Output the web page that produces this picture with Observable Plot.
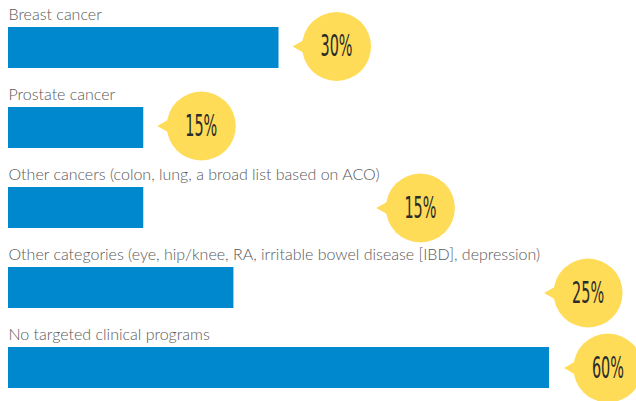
<!DOCTYPE html>
<html><head><meta charset="utf-8">
<script src="https://cdn.jsdelivr.net/npm/d3@7"></script>
<script src="https://cdn.jsdelivr.net/npm/@observablehq/plot@0.6"></script>
<style>
body{margin:0;background:#fff;}
</style></head><body><div id="chart"></div>
<script>
const categories = [
  "Breast cancer",
  "Prostate cancer",
  "Other cancers (colon, lung, a broad list based on ACO)",
  "Other categories (eye, hip/knee, RA, irritable bowel disease [IBD], depression)",
  "No targeted clinical programs"
];
const values = [30, 15, 15, 25, 60];
const valueLabels = ["30%", "15%", "15%", "25%", "60%"];

// layout: how far (in percentage points) each callout's pointer sits past its bar end
const calloutGap = [1.5, 1.5, 25.8, 34.4, 1.6];
// layout: small vertical nudge of each callout, in pixels
const calloutNudge = [-1.5, -2, 0, 5, 0];

const rows = categories.map((c, i) => ({
  category: c, value: values[i], label: valueLabels[i], tip: values[i] + calloutGap[i]
}));

const yellow = "#ffdc58";
const calloutMarks = rows.flatMap((r, i) => [
  Plot.dot([r], {x: "tip", y: "category", symbol: "triangle", r: 7.7, rotate: -90, dx: 12, dy: calloutNudge[i], fill: yellow, stroke: null}),
  Plot.dot([r], {x: "tip", y: "category", r: 34.5, dx: 44, dy: calloutNudge[i], fill: yellow, stroke: null}),
  Plot.text([r], {x: "tip", y: "category", text: "label", dx: 44, dy: calloutNudge[i], lineAnchor: "middle", fontSize: 31,
    fill: "#2b2b2b", fontFamily: "DejaVu Sans Condensed"})
]);

const chart = Plot.plot({
  width: 636, height: 401,
  marginLeft: 8, marginRight: 87, marginTop: 27, marginBottom: 12,
  x: {domain: [0, 60], axis: null},
  y: {domain: categories, axis: null, paddingInner: 0.489, paddingOuter: 0, align: 0},
  marks: [
    Plot.barX(rows, {x: "value", y: "category", fill: "#0088cf"}),
    Plot.text(rows, {x: 0, y: "category", text: "category", textAnchor: "start", lineAnchor: "middle",
      dy: -33.6, fontSize: 16, fill: "#595959", fontFamily: "Lato", fontWeight: 300}),
    ...calloutMarks
  ]
});
document.getElementById("chart").appendChild(chart);

// condense the callout figures horizontally (keeps their anchor)
chart.querySelectorAll('g[aria-label="text"]').forEach(g => {
  if ((g.getAttribute("font-family") || "").includes("Condensed")) {
    g.querySelectorAll("text").forEach(t => {
      t.setAttribute("textLength", 32);
      t.setAttribute("lengthAdjust", "spacingAndGlyphs");
    });
  }
});
</script>
</body></html>
